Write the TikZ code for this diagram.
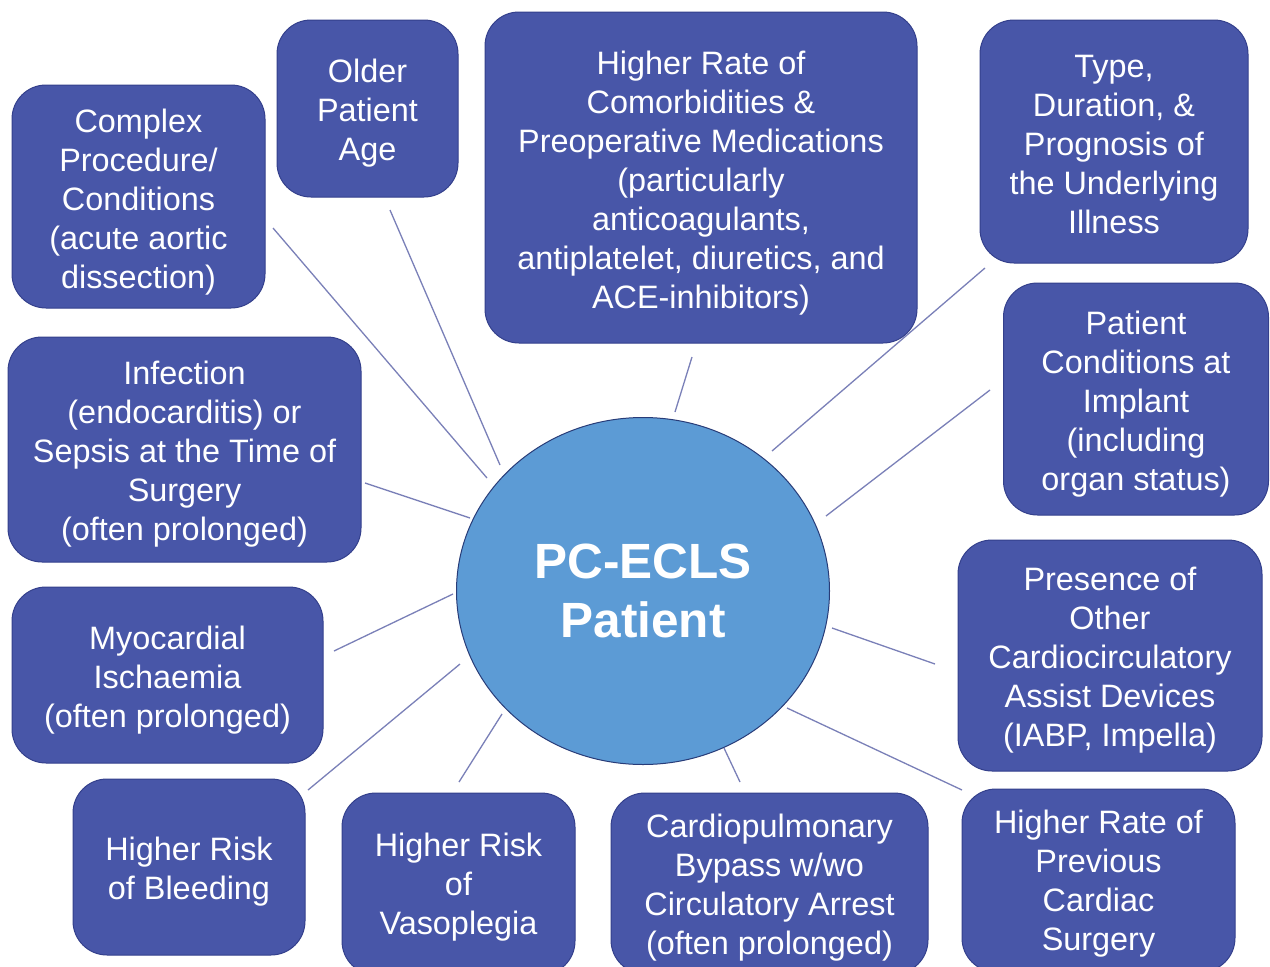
\documentclass[tikz,border=0pt]{standalone}
\usepackage{fontspec}
\setmainfont{Liberation Sans}
\usetikzlibrary{shapes.geometric}
\definecolor{boxfill}{RGB}{72,86,168}
\definecolor{boxline}{RGB}{52,64,140}
\definecolor{circfill}{RGB}{92,155,213}
\definecolor{circline}{RGB}{40,60,120}
\definecolor{spoke}{RGB}{122,128,184}
\begin{document}
\begin{tikzpicture}[x=1pt,y=-1pt,
  factor/.style={draw=boxline, line width=1pt, fill=boxfill, rounded corners=34pt, inner sep=0pt},
  ftext/.style={text=white, align=center, inner sep=0pt,
    font=\fontsize{32.4}{39}\selectfont},
  hub/.style={ellipse, draw=circline, line width=1pt, fill=circfill, text=white,
    align=center, inner sep=0pt, font=\fontsize{49.5}{59}\selectfont\bfseries},
  spokeline/.style={draw=spoke, line width=1.3pt}]
\useasboundingbox (0,0) rectangle (1270,967);
\clip (0,0) rectangle (1270,967);
\fill[white] (0,0) rectangle (1270,967);

\node[hub, minimum width=373pt, minimum height=347pt] (hub) at (643,591) {PC-ECLS\\Patient};

% boxes
\node[factor, minimum width=253pt, minimum height=223pt] (complex) at (138.5,196.5) {};
\node[factor, minimum width=181pt, minimum height=177pt] (older) at (367.5,108.5) {};
\node[factor, minimum width=432pt, minimum height=331pt] (comorb) at (701,177.5) {};
\node[factor, minimum width=268pt, minimum height=243pt] (type) at (1114,141.5) {};
\node[factor, minimum width=265pt, minimum height=232pt] (patcond) at (1136,399) {};
\node[factor, minimum width=353pt, minimum height=225pt] (infect) at (184.5,449.5) {};
\node[factor, minimum width=311pt, minimum height=176pt] (myo) at (167.5,675) {};
\node[factor, minimum width=304pt, minimum height=231pt] (presence) at (1110,655.5) {};
\node[factor, minimum width=232pt, minimum height=176pt] (bleed) at (189,867) {};
\node[factor, minimum width=233pt, minimum height=182pt] (vaso) at (458.5,884) {};
\node[factor, minimum width=317pt, minimum height=181pt] (cpb) at (769.5,883.5) {};
\node[factor, minimum width=273pt, minimum height=183pt] (prev) at (1098.5,880.5) {};

% texts
\node[ftext] (complexT) at ([yshift=-5.5pt]complex.center)
  {Complex\\Procedure/\\Conditions\\(acute aortic\\dissection)};
\node[ftext] (olderT) at ([yshift=-5pt]older.center) {Older\\Patient\\Age};
\node[ftext] (comorbT) at ([yshift=-6pt]comorb.center)
  {Higher Rate of\\Comorbidities \&\\Preoperative Medications\\(particularly\\anticoagulants,\\antiplatelet, diuretics, and\\ACE-inhibitors)};
\node[ftext] (typeT) at ([yshift=-3.5pt]type.center)
  {Type,\\Duration, \&\\Prognosis of\\the Underlying\\Illness};
\node[ftext] (patcondT) at ([yshift=-5pt]patcond.center)
  {Patient\\Conditions at\\Implant\\(including\\organ status)};
\node[ftext] (infectT) at ([yshift=-5pt]infect.center)
  {Infection\\(endocarditis) or\\Sepsis at the Time of\\Surgery\\(often prolonged)};
\node[ftext] (myoT) at ([yshift=-5pt]myo.center)
  {Myocardial\\Ischaemia\\(often prolonged)};
\node[ftext] (presenceT) at ([yshift=-5pt]presence.center)
  {Presence of\\Other\\Cardiocirculatory\\Assist Devices\\(IABP, Impella)};
\node[ftext] (bleedT) at ([yshift=-5pt]bleed.center) {Higher Risk\\of Bleeding};
\node[ftext] (vasoT) at ([yshift=-3pt]vaso.center) {Higher Risk\\of\\Vasoplegia};
\node[ftext] (cpbT) at ([yshift=-4pt]cpb.center)
  {Cardiopulmonary\\Bypass w/wo\\Circulatory Arrest\\(often prolonged)};
\node[ftext] (prevT) at ([yshift=-3pt]prev.center)
  {Higher Rate of\\Previous\\Cardiac\\Surgery};

% spoke end points (lines stop short of the shapes)
\coordinate (complexA) at (273,228);  \coordinate (complexB) at (487,478);
\coordinate (olderA) at (390,210);    \coordinate (olderB) at (500,465);
\coordinate (comorbA) at (692,357);   \coordinate (comorbB) at (675,412);
\coordinate (typeA) at (985,268);     \coordinate (typeB) at (772,451);
\coordinate (patcondA) at (990,390);  \coordinate (patcondB) at (826,516);
\coordinate (infectA) at (365,483);   \coordinate (infectB) at (470,518);
\coordinate (myoA) at (334,651);      \coordinate (myoB) at (453,594);
\coordinate (bleedA) at (308,790);    \coordinate (bleedB) at (460,664);
\coordinate (vasoA) at (459,782);     \coordinate (vasoB) at (502,714);
\coordinate (cpbA) at (740,782);      \coordinate (cpbB) at (724,748);
\coordinate (presenceA) at (935,664); \coordinate (presenceB) at (832,628);
\coordinate (prevA) at (962,790);     \coordinate (prevB) at (787,708);

\foreach \n in {complex,older,comorb,type,patcond,infect,myo,bleed,vaso,cpb,presence,prev}
  \draw[spokeline] (\n A) -- (\n B);
\end{tikzpicture}
\end{document}
